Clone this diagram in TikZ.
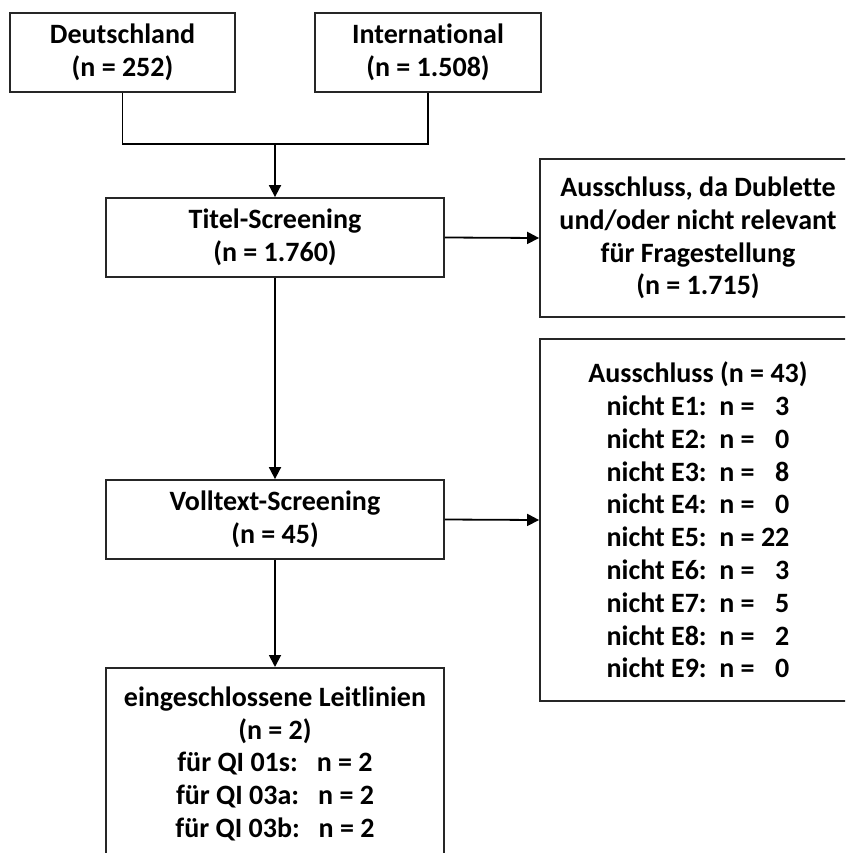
\documentclass[tikz,border=0pt]{standalone}
\usepackage{fontspec}
\setmainfont[Ligatures={NoCommon}]{Carlito}
\usetikzlibrary{arrows.meta}
\tikzset{
  box/.style={draw=black!85, line width=1.8pt, align=center, inner sep=0pt,
    font=\bfseries\fontsize{28}{32.8}\selectfont},
  conn/.style={draw=black, line width=1.8pt},
  arr/.style={conn, -{Triangle[length=12pt,width=12pt]}}
}
\begin{document}
\begin{tikzpicture}[x=1pt,y=-1pt]
\clip (0,0) rectangle (845,853);
\fill[white] (0,0) rectangle (845,853);
\node[box, minimum width=225pt, minimum height=79pt] (d) at (122.5,52.5) {Deutschland\\(n = 252)};
\node[box, minimum width=226pt, minimum height=79pt] (i) at (428,52.5) {International\\(n = 1.508)};
\node[box, minimum width=338pt, minimum height=79pt] (t) at (275,237.5) {Titel-Screening\\(n = 1.760)};
\node[box, minimum width=316pt, minimum height=158pt] (x1) at (698,238) {Ausschluss, da Dublette\\und/oder nicht relevant\\für Fragestellung\\(n = 1.715)};
\node[box, minimum width=338pt, minimum height=79pt] (v) at (275,519.5) {Volltext-Screening\\(n = 45)};
\node[box, minimum width=316pt, minimum height=362pt] (x2) at (698,520) {Ausschluss (n = 43)\\
nicht E1:\ \ n = \hphantom{2}3\\
nicht E2:\ \ n = \hphantom{2}0\\
nicht E3:\ \ n = \hphantom{2}8\\
nicht E4:\ \ n = \hphantom{2}0\\
nicht E5:\ \ n = 22\\
nicht E6:\ \ n = \hphantom{2}3\\
nicht E7:\ \ n = \hphantom{2}5\\
nicht E8:\ \ n = \hphantom{2}2\\
nicht E9:\ \ n = \hphantom{2}0};
\node[box, minimum width=338pt, minimum height=192pt, anchor=north] (e) at (275,667) {eingeschlossene Leitlinien\\(n = 2)\\
für QI 01s:\ \ \ n = 2\\
für QI 03a:\ \ \ n = 2\\
für QI 03b:\ \ \ n = 2};
\coordinate (j) at (275,144);
\draw[conn] (d.south) |- (j);
\draw[conn] (i.south) |- (j);
\draw[arr] (j) -- (t.north);
\draw[arr] (t.east) -- (x1.west);
\draw[arr] (t.south) -- (v.north);
\draw[arr] (v.east) -- (x2.west);
\draw[arr] (v.south) -- (e.north);
\end{tikzpicture}
\end{document}
